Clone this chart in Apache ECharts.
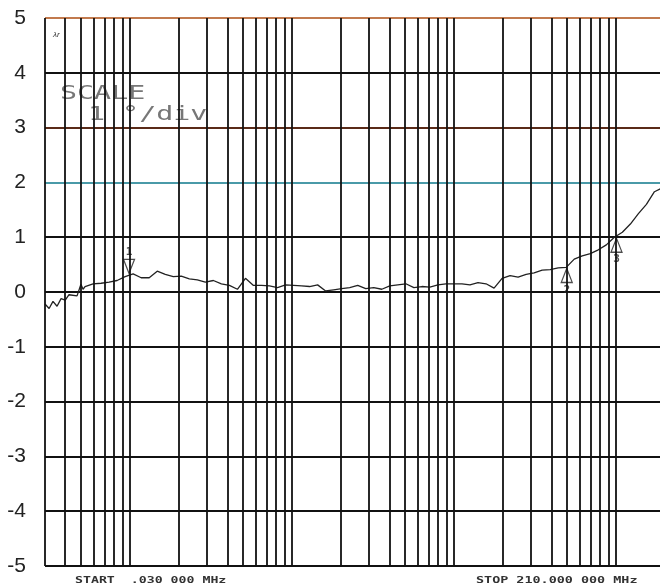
<!DOCTYPE html>
<html>
<head>
<meta charset="utf-8">
<script src="https://cdn.jsdelivr.net/npm/echarts@6/dist/echarts.min.js"></script>
<style>
  html,body{margin:0;padding:0;background:#fff;}
  #phase{width:660px;height:585px;}
</style>
</head>
<body>
<div id="phase"></div>
<script type="text/javascript">
  // sweep frequencies (MHz) and phase deviation (deg)
  var freqs = [0.0300,0.0318,0.0336,0.0356,0.0377,0.0400,0.0422,0.0473,0.0500,0.0515,0.0530,0.0594,0.0666,0.0746,0.0836,0.0937,0.1050,0.1177,0.1319,0.1478,
    0.1657,0.1857,0.2081,0.2332,0.2614,0.2929,0.3283,0.3679,0.4123,0.4621,0.5179,0.5804,0.6505,0.7290,0.8170,0.9156,
    1.026,1.150,1.289,1.445,1.619,1.815,2.034,2.279,2.554,2.863,3.208,3.596,4.030,4.516,5.061,5.672,6.357,7.124,7.984,8.948,
    10.03,11.24,12.59,14.11,15.82,17.73,19.87,22.27,24.95,27.97,31.34,35.13,39.37,44.12,49.44,55.41,62.10,69.60,78.00,87.41,
    97.97,109.8,123.0,137.9,154.5,173.2,194.1,210.0];
  var phase = [-0.22,-0.30,-0.17,-0.26,-0.12,-0.15,-0.05,-0.07,0.14,0.05,0.10,0.15,0.16,0.18,0.21,0.28,0.33,0.26,0.26,0.38,
    0.32,0.28,0.29,0.24,0.22,0.18,0.21,0.15,0.12,0.05,0.25,0.12,0.12,0.11,0.08,0.13,
    0.12,0.11,0.10,0.13,0.02,0.04,0.06,0.08,0.12,0.06,0.08,0.05,0.11,0.13,0.15,0.08,0.10,0.09,0.13,0.15,
    0.15,0.15,0.13,0.17,0.15,0.07,0.25,0.30,0.27,0.32,0.35,0.40,0.41,0.44,0.45,0.60,0.66,0.70,0.77,0.86,
    1.00,1.09,1.24,1.43,1.60,1.83,1.90,1.95];

  // semi-log paper rulings
  var gridFreqs = [0.03,0.04,0.05,0.06,0.07,0.08,0.09,0.1,0.2,0.3,0.4,0.5,0.6,0.7,0.8,0.9,
    1,2,3,4,5,6,7,8,9,10,20,30,40,50,60,70,80,90,100,200];

  var markerFreqs = [0.099, 49.8, 101];
  var markerPhase = [0.34, 0.43, 0.98];
  var markerNames = ['1', '2', '3'];

  var chart = echarts.init(document.getElementById('phase'));

  var trace = freqs.map(function (f, i) { return [f, phase[i]]; });
  var rulings = gridFreqs.map(function (f) { return { xAxis: f }; });

  var markerData = markerFreqs.map(function (f, i) {
    var down = i === 0;
    return {
      value: [f, markerPhase[i]],
      name: markerNames[i],
      symbolRotate: down ? 180 : 0,
      symbolOffset: down ? [0, -7] : [0, 7],
      label: {
        position: down ? 'top' : 'bottom',
        distance: 1
      }
    };
  });

  var option = {
    backgroundColor: '#fff',
    animation: false,
    grid: { left: 45, width: 623, top: 18, bottom: 19, outerBoundsMode: 'none' },
    xAxis: {
      type: 'log',
      logBase: 10,
      min: 0.03,
      max: 210,
      axisLine: { show: false },
      axisTick: { show: false },
      axisLabel: { show: false },
      splitLine: { show: false }
    },
    yAxis: {
      type: 'value',
      min: -5,
      max: 5,
      interval: 1,
      axisLine: { show: false },
      axisTick: { show: false },
      axisLabel: {
        margin: 19,
        fontSize: 21,
        fontFamily: 'Liberation Sans',
        color: '#222'
      },
      splitLine: {
        show: true,
        lineStyle: {
          width: 2,
          color: ['#111','#111','#111','#111','#111','#111','#111','#4a9aa8','#5a2a18','#111','#c27a4e']
        }
      }
    },
    graphic: [
      { type: 'text', left: 53, top: 31, style: { text: 'λr', fontSize: 8, fontStyle: 'italic', fill: '#333' } },
      { type: 'text', x: 60, y: 85, scaleX: 1.49, style: { text: 'SCALE', fontSize: 19, fontFamily: 'DejaVu Sans Mono', fill: '#777' } },
      { type: 'text', x: 88, y: 106, scaleX: 1.49, style: { text: '1 °/div', fontSize: 19, fontFamily: 'DejaVu Sans Mono', fill: '#777' } },
      { type: 'text', x: 75, y: 576, scaleX: 1.47, style: { text: 'START  .030 000 MHz', fontSize: 9, fontWeight: 'bold', fontFamily: 'DejaVu Sans Mono', fill: '#333' } },
      { type: 'text', x: 476, y: 576, scaleX: 1.49, style: { text: 'STOP 210.000 000 MHz', fontSize: 9, fontWeight: 'bold', fontFamily: 'DejaVu Sans Mono', fill: '#333' } }
    ],
    series: [
      {
        name: 'phase',
        type: 'line',
        data: trace,
        symbol: 'none',
        lineStyle: { color: '#222', width: 1.3 },
        markLine: {
          silent: true,
          symbol: ['none', 'none'],
          label: { show: false },
          lineStyle: { color: '#111', width: 1.8, type: 'solid' },
          data: rulings
        },
        z: 3
      },
      {
        name: 'markers',
        type: 'scatter',
        data: markerData,
        symbol: 'triangle',
        symbolSize: [11, 14],
        itemStyle: { color: 'rgba(255,255,255,0)', borderColor: '#222', borderWidth: 1.3 },
        label: {
          show: true,
          formatter: '{b}',
          fontSize: 11,
          fontWeight: 'bold',
          fontFamily: 'DejaVu Sans Mono',
          color: '#222'
        },
        z: 4
      }
    ]
  };
  chart.setOption(option);
</script>
</body>
</html>
